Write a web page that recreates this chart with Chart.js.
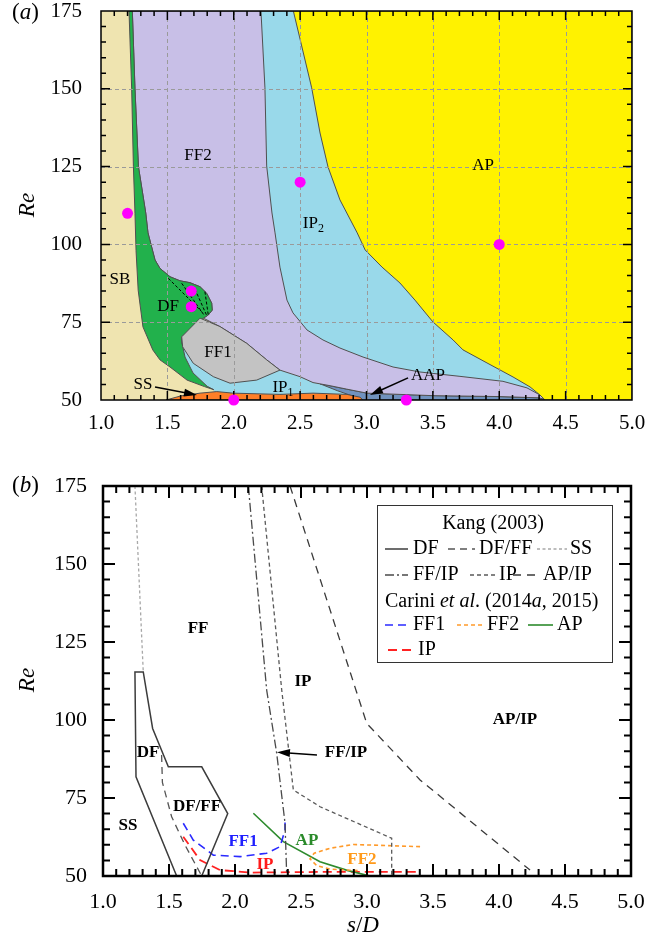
<!DOCTYPE html>
<html>
<head>
<meta charset="utf-8">
<script src="https://cdn.jsdelivr.net/npm/chart.js@4.4.1/dist/chart.umd.min.js"></script>
<style>
  body { margin: 0; background: #fff; width: 649px; height: 948px; position: relative; overflow: hidden; }
  #ca { position: absolute; left: 0; top: 0; }
  #cb { position: absolute; left: 0; top: 440px; }
</style>
</head>
<body>
<canvas id="ca" width="649" height="440"></canvas>
<canvas id="cb" width="649" height="508"></canvas>
<script>
// Regime maps for two side-by-side cylinders: s/D on x, Re on y.

const FONT = '"Liberation Serif", "Times New Roman", serif';
const EDGE = "#505050";

// ---------- panel (a): regions, outlines as [s/D, Re] ----------
const SB_REGION = [[1, 50], [5, 50], [5, 175], [1, 175]];
const IP1_REGION = [[1.600, 70.3], [1.610, 66.0], [1.633, 63.8], [1.693, 58.7], [1.800, 54.4], [1.850, 53.3], [1.850, 50],
  [3.000, 50], [3.004, 52.2], [2.850, 53.5], [2.725, 54.6], [2.597, 55.6], [2.499, 57.5], [2.348, 59.6], [2.000, 70.0], [1.750, 76.3]];
const AAP_REGION = [[2.65, 55.2], [2.85, 53.5], [3.004, 52.2], [3.5, 51.4], [4.0, 51.1], [4.3, 50.7], [4.36, 50],
  [2.975, 50], [2.90, 51.2], [2.78, 53.0]];
const FF2_REGION = [[1.236, 175], [1.256, 150], [1.282, 125], [1.337, 110.1], [1.354, 103.7], [1.407, 95.0], [1.444, 92.3],
  [1.520, 89.6], [1.595, 88.3], [1.670, 87.7], [1.746, 86.4], [1.796, 84.3], [1.834, 81.1], [1.838, 78.9], [1.808, 77.3],
  [1.771, 76.3], [1.896, 73.6], [2.098, 68.2], [2.248, 62.9], [2.348, 59.6], [2.499, 57.5], [2.597, 55.6], [2.725, 54.6],
  [2.850, 53.5], [3.004, 52.2], [3.5, 51.4], [4.0, 51.1], [4.3, 50.7], [4.36, 50], [5, 50], [5, 175]];
const DF_REGION = [[1.211, 175], [1.231, 150], [1.244, 125], [1.256, 110], [1.264, 98], [1.280, 85.3], [1.316, 73.5],
  [1.390, 66.1], [1.444, 62.9], [1.520, 60.6], [1.648, 56.4], [1.780, 54.3], [1.850, 53.3], [1.800, 54.4], [1.693, 58.7],
  [1.633, 63.8], [1.610, 68.3], [1.608, 70.3], [1.771, 76.3], [1.808, 77.3], [1.838, 78.9], [1.834, 81.1], [1.796, 84.3],
  [1.746, 86.4], [1.670, 87.7], [1.595, 88.3], [1.520, 89.6], [1.444, 92.3], [1.407, 95.0], [1.354, 103.7], [1.337, 110.1],
  [1.282, 125], [1.256, 150], [1.236, 175]];
const FF1_REGION = [[1.746, 76.3], [1.608, 70.3], [1.615, 67.1], [1.695, 61.8], [1.846, 57.5], [1.972, 55.4], [2.173, 56.4],
  [2.348, 59.6], [2.248, 62.9], [2.098, 68.2], [1.896, 73.6]];
const IP2_REGION = [[2.205, 175], [2.235, 150.3], [2.248, 125.2], [2.288, 110.1], [2.311, 103.7], [2.348, 92.7], [2.401, 82.1],
  [2.446, 78.0], [2.552, 72.5], [2.672, 69.3], [2.800, 66.7], [2.974, 63.8], [3.200, 60.6], [3.403, 59.0], [3.704, 57.6],
  [4.028, 56.0], [4.209, 53.9], [4.307, 51.6], [4.36, 50], [5, 50], [5, 175]];
const AP_REGION = [[2.449, 175], [2.587, 150.3], [2.650, 135.8], [2.710, 124.9], [2.800, 114.3], [2.930, 103.7], [2.990, 98.2],
  [3.117, 92.7], [3.252, 87.6], [3.365, 82.1], [3.500, 75.1], [3.652, 69.3], [3.727, 66.1], [3.908, 61.9], [4.104, 57.4],
  [4.232, 54.2], [4.307, 51.6], [4.345, 50], [5, 50], [5, 175]];
const SS_REGION = [[1.49, 50], [1.60, 51.3], [1.746, 52.2], [1.872, 52.7], [1.994, 52.2], [2.348, 51.8], [2.597, 52.2],
  [2.853, 51.8], [2.951, 50.9], [2.974, 50]];
const DF_HATCH = [
  [[1.507, 89.1], [1.758, 78.4]],
  [[1.608, 87.5], [1.776, 77.3]],
  [[1.708, 85.6], [1.800, 76.8]],
  [[1.783, 84.8], [1.808, 77.3]],
];
// simulated cases (magenta dots)
const RUNS_S = [1.2, 1.68, 1.68, 2.0, 2.5, 3.3, 4.0];
const RUNS_RE = [110, 85, 80, 50, 120, 50, 100];

const LABELS_A = [
  { t: "FF2", s: 1.731, re: 128.7 },
  { t: "AP", s: 3.878, re: 125.2 },
  { t: "IP", sub: "2", s: 2.60, re: 106.6 },
  { t: "SB", s: 1.143, re: 88.6 },
  { t: "DF", s: 1.505, re: 79.9 },
  { t: "FF1", s: 1.881, re: 65.1 },
  { t: "SS", s: 1.316, re: 55.1 },
  { t: "IP", sub: "1", s: 2.371, re: 53.9 },
  { t: "AAP", s: 3.463, re: 58.0 },
];
const ARROWS_A = [
  [[1.407, 54.2], [1.723, 51.6]],
  [[3.313, 57.1], [3.026, 51.6]],
];

// ---------- panel (b): boundary curves ----------
const KANG_DF = [[1.558, 50], [1.25, 81.8], [1.242, 115.4], [1.305, 115.4], [1.376, 97.3], [1.495, 85], [1.748, 85], [1.945, 70], [1.748, 50]];
const KANG_DFFF = [[1.444, 88.8], [1.45, 80], [1.52, 69], [1.62, 60], [1.748, 50]];
const KANG_SS = [[1.242, 175], [1.305, 115.4]];
const KANG_FFIP = [[2.101, 175], [2.24, 109.6], [2.316, 89.3], [2.379, 66.9], [2.392, 50]];
const KANG_IP = [[2.202, 175], [2.354, 109.6], [2.442, 77.6], [2.644, 72.2], [3.187, 62.1], [3.187, 50]];
const KANG_APIP = [[2.417, 175], [2.998, 98.9], [3.402, 80.8], [4.235, 51.9]];
const CARINI_FF1 = [[1.608, 66.9], [1.684, 61.5], [1.836, 56.7], [2.038, 56.2], [2.24, 57.3], [2.341, 59.4], [2.379, 64.7], [2.379, 68.5]];
const CARINI_FF2 = [[3.402, 59.4], [2.896, 60.1], [2.72, 58.9], [2.60, 57.3], [2.568, 55.5], [2.62, 53.3], [2.72, 52.2], [2.9, 51.8], [2.95, 51.7]];
const CARINI_AP = [[2.139, 70.1], [2.366, 61], [2.644, 54.6], [2.85, 51.8], [3.023, 50]];
const CARINI_IP = [[1.608, 62.6], [1.735, 55.1], [1.886, 51.9], [2.114, 51.1], [2.644, 51.3], [3.402, 51.3]];

const STY = {
  DF: { color: "#3c3c3c", dash: [], w: 1.5 },
  DFFF: { color: "#555", dash: [7, 5], w: 1.3 },
  SS: { color: "#a8a8a8", dash: [3, 2.5], w: 1.3 },
  FFIP: { color: "#4a4a4a", dash: [9, 3, 2, 3], w: 1.3 },
  IPK: { color: "#5a5a5a", dash: [4, 3], w: 1.3 },
  APIP: { color: "#3a3a3a", dash: [8, 6], w: 1.3 },
  FF1: { color: "#2a2aff", dash: [8, 5], w: 1.6 },
  FF2: { color: "#ff9a2a", dash: [4, 3], w: 1.6 },
  AP: { color: "#2e8b2e", dash: [], w: 1.6 },
  IPC: { color: "#ff2222", dash: [9, 5], w: 1.8 },
};

const LABELS_B = [
  { t: "FF", s: 1.72, re: 129.2 },
  { t: "IP", s: 2.515, re: 112.2 },
  { t: "DF", s: 1.341, re: 89.7 },
  { t: "DF/FF", s: 1.712, re: 72.1 },
  { t: "SS", s: 1.189, re: 66.0 },
  { t: "FF/IP", s: 2.841, re: 89.4 },
  { t: "AP/IP", s: 4.121, re: 100 },
  { t: "FF1", s: 2.061, re: 60.9, c: "#1f1fff" },
  { t: "AP", s: 2.545, re: 61.5, c: "#2a8a2a" },
  { t: "IP", s: 2.227, re: 53.5, c: "#ff1a1a" },
  { t: "FF2", s: 2.962, re: 55.1, c: "#ff9a1a" },
];
const ARROWS_B = [[[2.621, 88.8], [2.318, 89.7]]];

// ---------- helpers ----------
const xy = (pts) => pts.map(([x, y]) => ({ x, y }));

function regionSet(pts, color, order, edge) {
  const data = xy(pts);
  data.push(data[0]);
  return {
    data, backgroundColor: color, fill: "shape",
    borderColor: edge ? EDGE : "rgba(0,0,0,0)", borderWidth: 1,
    pointRadius: 0, order,
  };
}

function lineSet(pts, st, order = 1) {
  return {
    data: xy(pts), fill: false, borderColor: st.color, borderWidth: st.w,
    borderDash: st.dash, pointRadius: 0, order,
  };
}

function arrow(ctx, x1, y1, x2, y2) {
  const a = Math.atan2(y2 - y1, x2 - x1);
  ctx.beginPath();
  ctx.moveTo(x1, y1);
  ctx.lineTo(x2 - 8 * Math.cos(a), y2 - 8 * Math.sin(a));
  ctx.stroke();
  ctx.beginPath();
  ctx.moveTo(x2, y2);
  ctx.lineTo(x2 - 13 * Math.cos(a) + 4 * Math.sin(a), y2 - 13 * Math.sin(a) - 4 * Math.cos(a));
  ctx.lineTo(x2 - 13 * Math.cos(a) - 4 * Math.sin(a), y2 - 13 * Math.sin(a) + 4 * Math.cos(a));
  ctx.closePath();
  ctx.fill();
}

function frameAndTicks(ctx, chart, o) {
  const { left, right, top, bottom } = chart.chartArea;
  const xs = chart.scales.x, ys = chart.scales.y;
  ctx.save();
  ctx.strokeStyle = "#000";
  ctx.lineWidth = o.tickW;
  ctx.beginPath();
  for (let i = 1; i < 40; i++) {
    const px = xs.getPixelForValue(1 + i * 0.1);
    const len = i % 5 === 0 ? o.major : o.minor;
    ctx.moveTo(px, bottom); ctx.lineTo(px, bottom - len);
    ctx.moveTo(px, top); ctx.lineTo(px, top + len);
  }
  for (let i = 1; i < 25; i++) {
    const py = ys.getPixelForValue(50 + i * 5);
    const len = i % 5 === 0 ? o.major : o.minor;
    ctx.moveTo(left, py); ctx.lineTo(left + len, py);
    ctx.moveTo(right, py); ctx.lineTo(right - len, py);
  }
  ctx.stroke();
  ctx.lineWidth = o.frameW;
  ctx.strokeRect(left, top, right - left, bottom - top);
  ctx.restore();
}

function drawItalicMix(ctx, parts, x, y, size) {
  let cx = x;
  for (const [txt, it] of parts) {
    ctx.font = `${it ? "italic " : ""}${size}px ${FONT}`;
    ctx.fillText(txt, cx, y);
    cx += ctx.measureText(txt).width;
  }
}

function yTitle(ctx, cx, cy) {
  ctx.save();
  ctx.translate(cx, cy);
  ctx.rotate(-Math.PI / 2);
  ctx.font = `italic 23px ${FONT}`;
  ctx.textAlign = "center";
  ctx.textBaseline = "middle";
  ctx.fillStyle = "#000";
  ctx.fillText("Re", 0, 0);
  ctx.restore();
}

function scalesFor(yWidth, xHeight, tickSize, padY, padX) {
  const tickFont = { family: FONT, size: tickSize };
  return {
    x: {
      type: "linear", min: 1, max: 5,
      ticks: { stepSize: 0.5, callback: (v) => v.toFixed(1), font: tickFont, color: "#000", padding: padX, maxRotation: 0, autoSkip: false },
      grid: { display: false, drawTicks: false }, border: { display: false },
      afterFit: (s) => { s.height = xHeight; s.paddingLeft = 0; s.paddingRight = 0; },
    },
    y: {
      type: "linear", min: 50, max: 175,
      ticks: { stepSize: 25, font: tickFont, color: "#000", padding: padY },
      grid: { display: false, drawTicks: false }, border: { display: false },
      afterFit: (s) => { s.width = yWidth; s.paddingTop = 0; s.paddingBottom = 0; },
    },
  };
}

// ---------- chart (a) ----------
const datasetsA = [
  regionSet(SB_REGION, "#EFE4B0", 20, false),
  regionSet(IP1_REGION, "#99D9EA", 19, false),
  regionSet(AAP_REGION, "#7092BE", 18, true),
  regionSet(FF2_REGION, "#C8BFE7", 17, true),
  regionSet(DF_REGION, "#22B14C", 16, true),
  regionSet(FF1_REGION, "#C3C3C3", 15, true),
  regionSet(IP2_REGION, "#99D9EA", 14, true),
  regionSet(AP_REGION, "#FFF200", 13, true),
  regionSet(SS_REGION, "#FF7F27", 12, true),
  ...DF_HATCH.map((h) => lineSet(h, { color: "#000", dash: [3, 2], w: 1 }, 11)),
  {
    data: RUNS_S.map((s, i) => ({ x: s, y: RUNS_RE[i] })),
    showLine: false, pointRadius: 5.5, pointBackgroundColor: "#FF00FF",
    pointBorderWidth: 0, pointBorderColor: "#FF00FF", clip: false, order: 0,
  },
];
const RUNS_INDEX = datasetsA.length - 1;

const panelA = {
  id: "panelA",
  beforeDatasetDraw(chart, args) {
    if (args.index !== RUNS_INDEX) return;
    const ctx = chart.ctx;
    const { left, right, top, bottom } = chart.chartArea;
    const xs = chart.scales.x, ys = chart.scales.y;
    ctx.save();
    ctx.strokeStyle = "#9a9a9a";
    ctx.lineWidth = 1;
    ctx.setLineDash([4, 3]);
    ctx.beginPath();
    for (const t of xs.ticks) {
      if (t.value <= 1 || t.value >= 5) continue;
      const px = Math.round(xs.getPixelForValue(t.value)) + 0.5;
      ctx.moveTo(px, top); ctx.lineTo(px, bottom);
    }
    for (const t of ys.ticks) {
      if (t.value <= 50 || t.value >= 175) continue;
      const py = Math.round(ys.getPixelForValue(t.value)) + 0.5;
      ctx.moveTo(left, py); ctx.lineTo(right, py);
    }
    ctx.stroke();
    ctx.restore();
    frameAndTicks(ctx, chart, { tickW: 1.5, major: 9, minor: 5, frameW: 1.5 });
  },
  afterDraw(chart) {
    const ctx = chart.ctx;
    const xs = chart.scales.x, ys = chart.scales.y;
    ctx.save();
    ctx.fillStyle = "#000";
    ctx.strokeStyle = "#000";
    ctx.lineWidth = 1.5;
    for (const [[s1, r1], [s2, r2]] of ARROWS_A) {
      arrow(ctx, xs.getPixelForValue(s1), ys.getPixelForValue(r1), xs.getPixelForValue(s2), ys.getPixelForValue(r2));
    }
    ctx.textBaseline = "middle";
    for (const l of LABELS_A) {
      const px = xs.getPixelForValue(l.s), py = ys.getPixelForValue(l.re);
      ctx.font = `17px ${FONT}`;
      const w = ctx.measureText(l.t).width;
      if (l.sub) {
        ctx.textAlign = "left";
        ctx.fillText(l.t, px - w / 2 - 3, py);
        ctx.font = `12px ${FONT}`;
        ctx.fillText(l.sub, px + w / 2 - 3, py + 5);
      } else {
        ctx.textAlign = "center";
        ctx.fillText(l.t, px, py);
      }
    }
    ctx.textAlign = "left";
    ctx.textBaseline = "alphabetic";
    drawItalicMix(ctx, [["(", false], ["a", true], [")", false]], 12, 19, 23);
    yTitle(ctx, 28, 205);
    ctx.restore();
  },
};

new Chart(document.getElementById("ca"), {
  type: "line",
  data: { datasets: datasetsA },
  options: {
    responsive: false, animation: false, devicePixelRatio: 1,
    layout: { padding: { left: 0, right: 17, top: 11, bottom: 0 } },
    elements: { line: { tension: 0 } },
    plugins: { legend: { display: false }, tooltip: { enabled: false } },
    scales: scalesFor(101, 40, 21, 19, 11),
  },
  plugins: [panelA],
});

// ---------- chart (b) ----------
const datasetsB = [
  lineSet(KANG_DF, STY.DF),
  lineSet(KANG_DFFF, STY.DFFF),
  lineSet(KANG_SS, STY.SS),
  lineSet(KANG_FFIP, STY.FFIP),
  lineSet(KANG_IP, STY.IPK),
  lineSet(KANG_APIP, STY.APIP),
  lineSet(CARINI_FF1, STY.FF1),
  lineSet(CARINI_FF2, STY.FF2),
  lineSet(CARINI_AP, STY.AP),
  lineSet(CARINI_IP, STY.IPC),
];

const LEGEND_ROWS = [
  { y: 44, items: [["DF", STY.DF, 8, 31, 36], ["DF/FF", STY.DFFF, 71, 98, 102], ["SS", STY.SS, 160, 190, 193]] },
  { y: 70, items: [["FF/IP", STY.FFIP, 8, 31, 36], ["IP", STY.IPK, 93, 120, 122], ["AP/IP", STY.APIP, 136, 163, 166]] },
  { y: 120, items: [["FF1", STY.FF1, 8, 31, 36], ["FF2", STY.FF2, 80, 106, 110], ["AP", STY.AP, 151, 176, 180]] },
  { y: 145, items: [["IP", STY.IPC, 11, 35, 41]] },
];

function drawLegend(ctx, area) {
  const L = area.right - 254, T = area.top + 19, W = 235, H = 157;
  ctx.save();
  ctx.fillStyle = "#fff";
  ctx.fillRect(L, T, W, H);
  ctx.strokeStyle = "#333";
  ctx.lineWidth = 1;
  ctx.strokeRect(L + 0.5, T + 0.5, W, H);
  ctx.fillStyle = "#000";
  ctx.textBaseline = "middle";
  ctx.font = `20px ${FONT}`;
  ctx.textAlign = "center";
  ctx.fillText("Kang (2003)", L + 116, T + 19);
  ctx.textAlign = "left";
  drawItalicMix(ctx, [["Carini ", false], ["et al", true], [". (2014", false], ["a", true], [", 2015)", false]], L + 8, T + 97, 20);
  for (const row of LEGEND_ROWS) {
    for (const [txt, st, x1, x2, tx] of row.items) {
      ctx.strokeStyle = st.color;
      ctx.lineWidth = st.w;
      ctx.setLineDash(st.dash);
      ctx.beginPath();
      ctx.moveTo(L + x1, T + row.y);
      ctx.lineTo(L + x2, T + row.y);
      ctx.stroke();
      ctx.setLineDash([]);
      ctx.font = `20px ${FONT}`;
      ctx.fillText(txt, L + tx, T + row.y);
    }
  }
  ctx.restore();
}

const panelB = {
  id: "panelB",
  afterDraw(chart) {
    const ctx = chart.ctx;
    const xs = chart.scales.x, ys = chart.scales.y;
    frameAndTicks(ctx, chart, { tickW: 2, major: 12, minor: 7, frameW: 2.5 });
    ctx.save();
    ctx.textAlign = "center";
    ctx.textBaseline = "middle";
    for (const l of LABELS_B) {
      ctx.font = `bold 17px ${FONT}`;
      ctx.fillStyle = l.c || "#000";
      ctx.fillText(l.t, xs.getPixelForValue(l.s), ys.getPixelForValue(l.re));
    }
    ctx.fillStyle = "#000";
    ctx.strokeStyle = "#000";
    ctx.lineWidth = 1.5;
    for (const [[s1, r1], [s2, r2]] of ARROWS_B) {
      arrow(ctx, xs.getPixelForValue(s1), ys.getPixelForValue(r1), xs.getPixelForValue(s2), ys.getPixelForValue(r2));
    }
    ctx.restore();
    drawLegend(ctx, chart.chartArea);
    ctx.save();
    ctx.fillStyle = "#000";
    ctx.textAlign = "left";
    ctx.textBaseline = "alphabetic";
    drawItalicMix(ctx, [["(", false], ["b", true], [")", false]], 12, 52, 23);
    drawItalicMix(ctx, [["s", true], ["/", false], ["D", true]], 347, 492, 23);
    yTitle(ctx, 28, 240);
    ctx.restore();
  },
};

new Chart(document.getElementById("cb"), {
  type: "line",
  data: { datasets: datasetsB },
  options: {
    responsive: false, animation: false, devicePixelRatio: 1,
    layout: { padding: { left: 0, right: 18, top: 46, bottom: 0 } },
    elements: { line: { tension: 0 } },
    plugins: { legend: { display: false }, tooltip: { enabled: false } },
    scales: scalesFor(103, 72, 22, 16, 13),
  },
  plugins: [panelB],
});
</script>
</body>
</html>
